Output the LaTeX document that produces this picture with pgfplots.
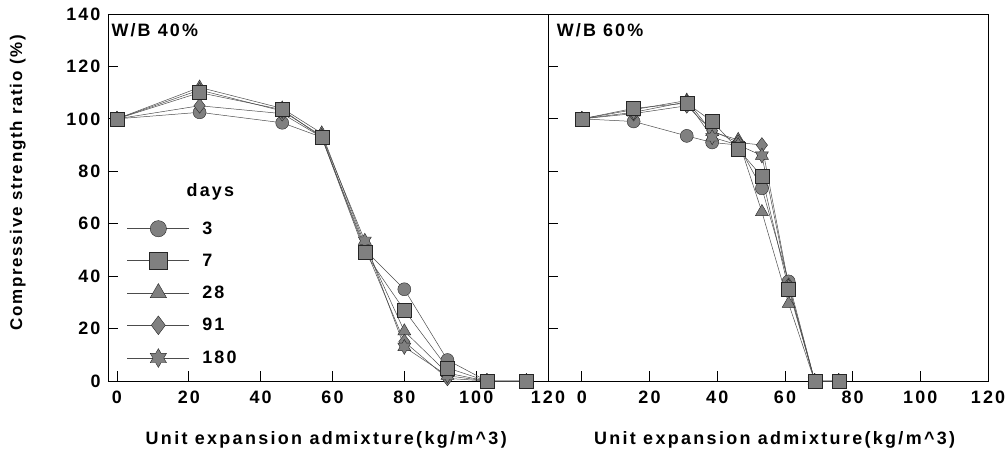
\documentclass[border=0pt]{standalone}
\usepackage{pgfplots}
\pgfplotsset{compat=1.18}
\usepackage{pgfplotstable}
\usepackage{fontspec}
\setmainfont{Liberation Sans}
\newfontfamily\lsf[LetterSpace=12]{Liberation Sans}
\newfontfamily\lsfx[LetterSpace=13]{Liberation Sans}
\newfontfamily\lsfy[LetterSpace=10]{Liberation Sans}

\pgfdeclareplotmark{hexstar}{%
  \pgfpathmoveto{\pgfpointpolar{90}{\pgfplotmarksize}}%
  \pgfpathlineto{\pgfpointpolar{120}{0.577\pgfplotmarksize}}%
  \pgfpathlineto{\pgfpointpolar{150}{\pgfplotmarksize}}%
  \pgfpathlineto{\pgfpointpolar{180}{0.577\pgfplotmarksize}}%
  \pgfpathlineto{\pgfpointpolar{210}{\pgfplotmarksize}}%
  \pgfpathlineto{\pgfpointpolar{240}{0.577\pgfplotmarksize}}%
  \pgfpathlineto{\pgfpointpolar{270}{\pgfplotmarksize}}%
  \pgfpathlineto{\pgfpointpolar{300}{0.577\pgfplotmarksize}}%
  \pgfpathlineto{\pgfpointpolar{330}{\pgfplotmarksize}}%
  \pgfpathlineto{\pgfpointpolar{0}{0.577\pgfplotmarksize}}%
  \pgfpathlineto{\pgfpointpolar{30}{\pgfplotmarksize}}%
  \pgfpathlineto{\pgfpointpolar{60}{0.577\pgfplotmarksize}}%
  \pgfpathclose
  \pgfusepathqfillstroke
}

\pgfplotstableread{
x d3 d7 d28 d91 d180
0 100 100 100 100 100
23 102.5 110 112 105 111
46 98.5 103.5 104 102 103
57 93 93 94.5 93 93.5
69 50 49 52 51 53.5
80 35 27 19 15 13
92 8 5 3 1 2
103 0 0 0 0 0
114 0 0 0 0 0
}\leftdata

\pgfplotstableread{
x d3 d7 d28 d91 d180
0 100 100 100 100 100
15.3 99 104 103.5 102 102.5
31 93.5 106 107 105 106.5
38.5 91 99 95 95.5 93
46.2 90 88.5 92 91 90
53.2 73.5 78 64.5 90 86
61.1 38 35 29.5 36.5 36
68.8 0 0 0 0 0
75.9 0 0 0 0 0
}\rightdata

\definecolor{mk}{gray}{0.5}

\pgfplotsset{
  s3/.style={mark=*, mark size=6.5bp},
  s7/.style={mark=square*, mark size=7bp},
  s28/.style={mark=triangle*, mark size=7.5bp},
  s91/.style={mark=diamond*, mark size=7.5bp},
  s180/.style={mark=hexstar, mark size=7.5bp},
  common/.style={
    scale only axis, height=367bp,
    ymin=0, ymax=140, ytick={0,20,...,140},
    xtick={0,20,...,120},
    tick align=inside, xtick pos=bottom, ytick pos=left,
    major tick length=10bp,
    tick style={black, line width=0.8pt},
    axis line style={black, line width=0.8pt},
    /pgf/number format/assume math mode=true,
    tick label style={font=\lsf\bfseries\fontsize{18}{20}\selectfont},
    xticklabel style={yshift=-6bp},
    yticklabel style={xshift=-4bp},
    label style={font=\lsfx\bfseries\fontsize{18}{20}\selectfont},
    every axis plot/.append style={line width=0.5pt, draw=black!70,
      mark options={fill=mk, draw=black!85, line width=0.4pt, solid}},
    legend image code/.code={\draw[#1, mark repeat=2, mark phase=2, every mark/.append style={scale=1.25}] plot coordinates {(0bp,0bp)(31bp,0bp)(62bp,0bp)}; \path[draw=none, fill=none] (0bp,0bp) -- (73bp,0bp);},
  },
}

\begin{document}
\begin{tikzpicture}
\path[use as bounding box] (-108bp,-70bp) rectangle (900bp,381bp);
\begin{axis}[common, at={(0bp,0bp)}, anchor=south west, width=440bp,
  xmin=-2.5, xmax=120,
  xlabel={Unit expansion admixture(kg/m\^{}3)},
  xlabel style={at={(axis description cs:0.496,-0.16)}, anchor=center},
  ylabel={Compressive strength ratio (\%)},
  ylabel style={at={(axis description cs:-0.205,0.54)}, anchor=center, font=\lsfy\bfseries\fontsize{17}{19}\selectfont},
  legend style={draw=none, fill=none, at={(0.043,0.44)}, anchor=north west,
    inner sep=0pt, row sep=14bp, font=\lsf\bfseries\fontsize{18}{20}\selectfont},
  legend cell align=left,
]
\addlegendimage{s3}\addlegendentry{3}
\addlegendimage{s7}\addlegendentry{7}
\addlegendimage{s28}\addlegendentry{28}
\addlegendimage{s91}\addlegendentry{91}
\addlegendimage{s180}\addlegendentry{180}
\addplot[s3, forget plot] table[x=x, y=d3] {\leftdata};
\addplot[s28, forget plot] table[x=x, y=d28] {\leftdata};
\addplot[s91, forget plot] table[x=x, y=d91] {\leftdata};
\addplot[s180, forget plot] table[x=x, y=d180] {\leftdata};
\addplot[s7, forget plot] table[x=x, y=d7] {\leftdata};
\node[anchor=west, font=\lsf\bfseries\fontsize{18}{20}\selectfont] at (axis description cs:0.0,0.956) {W/B 40\%};
\node[font=\lsf\bfseries\fontsize{18}{20}\selectfont] at (axis cs:26,72) {days};
\end{axis}
\begin{axis}[common, at={(440bp,0bp)}, anchor=south west, width=440bp,
  xmin=-10, xmax=120, yticklabel=\empty,
  xlabel={Unit expansion admixture(kg/m\^{}3)},
  xlabel style={at={(axis description cs:0.515,-0.16)}, anchor=center},
]
\addplot[s3] table[x=x, y=d3] {\rightdata};
\addplot[s28] table[x=x, y=d28] {\rightdata};
\addplot[s91] table[x=x, y=d91] {\rightdata};
\addplot[s180] table[x=x, y=d180] {\rightdata};
\addplot[s7] table[x=x, y=d7] {\rightdata};
\node[anchor=west, font=\lsf\bfseries\fontsize{18}{20}\selectfont] at (axis description cs:0.012,0.956) {W/B 60\%};
\end{axis}
\end{tikzpicture}
\end{document}
